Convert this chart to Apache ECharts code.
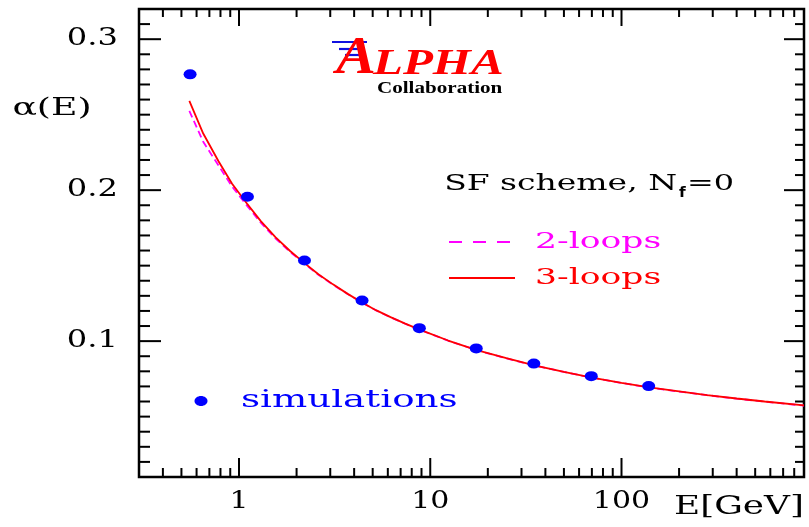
<!DOCTYPE html>
<html>
<head>
<meta charset="utf-8">
<script src="https://cdn.jsdelivr.net/npm/echarts@6/dist/echarts.min.js"></script>
<style>html,body{margin:0;padding:0;background:#fff}#c{width:809px;height:527px}</style>
</head>
<body>
<div id="c"></div>
<script>
// ---- data ----
const simE = [0.555, 1.107, 2.20, 4.40, 8.77, 17.4, 34.8, 69.5, 138.7];
const simAlpha = [0.2767, 0.1956, 0.1534, 0.1269, 0.1086, 0.0952, 0.0851, 0.0768, 0.0702];

const loop3E = [0.55, 0.65, 0.78, 0.92, 1.1, 1.3, 1.55, 1.85, 2.2, 2.6, 3.1, 3.7, 4.4, 5.2, 6.2, 7.4, 8.8, 12.4, 17.5, 25, 35, 50, 70, 100, 140, 200, 280, 400, 560, 900];
const loop3Alpha = [0.2591, 0.2375, 0.2193, 0.2042, 0.1912, 0.1795, 0.1689, 0.1597, 0.1517, 0.1443, 0.1376, 0.1313, 0.1256, 0.1205, 0.1159, 0.1116, 0.1076, 0.1004, 0.0941, 0.0887, 0.0840, 0.0797, 0.0759, 0.0724, 0.0693, 0.0667, 0.0643, 0.0620, 0.0600, 0.0574];

const loop2E = [0.55, 0.65, 0.78, 0.92, 1.1, 1.3, 1.55, 1.85, 2.2, 2.6, 3.1, 3.7, 4.4, 5.2, 6.2, 7.4, 8.8, 12.4, 17.5, 25, 35, 50, 70, 100, 140, 200, 280, 400, 560, 900];
const loop2Alpha = [0.2525, 0.2320, 0.2165, 0.2024, 0.1898, 0.1785, 0.1681, 0.1591, 0.1513, 0.1440, 0.1374, 0.1312, 0.1255, 0.1204, 0.1158, 0.1115, 0.1075, 0.1003, 0.0940, 0.0886, 0.0839, 0.0796, 0.0758, 0.0723, 0.0692, 0.0666, 0.0642, 0.0619, 0.0599, 0.0573];

const xMajorTicks = [1, 10, 100];
const xMajorLabels = ['1', '10', '100'];
const xMinorTicks = [0.4, 0.5, 0.6, 0.7, 0.8, 0.9, 2, 3, 4, 5, 6, 7, 8, 9, 20, 30, 40, 50, 60, 70, 80, 90, 200, 300, 400, 500, 600, 700, 800, 900];
const yMajorTicks = [0.1, 0.2, 0.3];
const yMajorLabels = ['0.1', '0.2', '0.3'];
const yMinorTicks = [0.02, 0.03, 0.04, 0.05, 0.06, 0.07, 0.08, 0.09, 0.11, 0.12, 0.13, 0.14, 0.15, 0.16, 0.17, 0.18, 0.19, 0.21, 0.22, 0.23, 0.24, 0.25, 0.26, 0.27, 0.28, 0.29, 0.31];

const X_MIN = 0.3, X_MAX = 900, Y_MIN = 0.01, Y_MAX = 0.32;
// --------------------------------------

const SERIF = '"DejaVu Serif", serif';
const zip = (a, b) => a.map((v, i) => [v, b[i]]);

function xTick(params, api) {
  const x = api.value(0), major = api.value(2);
  const b = api.coord([x, Y_MIN]), t = api.coord([x, Y_MAX]);
  const lb = major ? 19 : 9, lt = major ? 17 : 8;
  const st = { stroke: '#000', lineWidth: 2 };
  return { type: 'group', children: [
    { type: 'line', shape: { x1: b[0], y1: b[1], x2: b[0], y2: b[1] - lb }, style: st },
    { type: 'line', shape: { x1: t[0], y1: t[1], x2: t[0], y2: t[1] + lt }, style: st }
  ]};
}
function yTick(params, api) {
  const y = api.value(1), major = api.value(2);
  const l = api.coord([X_MIN, y]), r = api.coord([X_MAX, y]);
  const ll = major ? 22 : 11, lr = major ? 20 : 9;
  const st = { stroke: '#000', lineWidth: 2 };
  return { type: 'group', children: [
    { type: 'line', shape: { x1: l[0], y1: l[1], x2: l[0] + ll, y2: l[1] }, style: st },
    { type: 'line', shape: { x1: r[0], y1: r[1], x2: r[0] - lr, y2: r[1] }, style: st }
  ]};
}
function xLabel(params, api) {
  const p = api.coord([api.value(0), Y_MIN]);
  return { type: 'text', x: p[0], y: p[1] + 24, scaleX: 1.2,
    style: { text: xMajorLabels[params.dataIndex], font: '25px ' + SERIF, fill: '#000', align: 'center', verticalAlign: 'middle' } };
}
function yLabel(params, api) {
  const p = api.coord([X_MIN, api.value(1)]);
  return { type: 'text', x: p[0] - 21, y: p[1], scaleX: 1.34,
    style: { text: yMajorLabels[params.dataIndex], font: '24px ' + SERIF, fill: '#000', align: 'right', verticalAlign: 'middle' } };
}

const chart = echarts.init(document.getElementById('c'), null, { renderer: 'canvas' });
chart.setOption({
  animation: false,
  backgroundColor: '#fff',
  grid: { left: 139, right: 5, top: 9, bottom: 50, show: true, borderColor: '#000', borderWidth: 2.5, backgroundColor: 'transparent' },
  xAxis: { type: 'log', logBase: 10, min: X_MIN, max: X_MAX,
    axisLine: { show: false }, axisTick: { show: false }, axisLabel: { show: false }, splitLine: { show: false } },
  yAxis: { type: 'value', min: Y_MIN, max: Y_MAX,
    axisLine: { show: false }, axisTick: { show: false }, axisLabel: { show: false }, splitLine: { show: false } },
  series: [
    { type: 'custom', name: 'xticks', renderItem: xTick, silent: true, clip: false,
      data: xMinorTicks.map(v => [v, Y_MIN, 0]).concat(xMajorTicks.map(v => [v, Y_MIN, 1])) },
    { type: 'custom', name: 'yticks', renderItem: yTick, silent: true, clip: false,
      data: yMinorTicks.map(v => [X_MIN, v, 0]).concat(yMajorTicks.map(v => [X_MIN, v, 1])) },
    { type: 'custom', name: 'xlabels', renderItem: xLabel, silent: true, clip: false,
      data: xMajorTicks.map(v => [v, Y_MIN]) },
    { type: 'custom', name: 'ylabels', renderItem: yLabel, silent: true, clip: false,
      data: yMajorTicks.map(v => [X_MIN, v]) },
    { type: 'line', name: '2-loops', data: zip(loop2E, loop2Alpha), showSymbol: false, smooth: false,
      lineStyle: { color: '#ff00ff', width: 1.8, type: [7, 4] }, z: 3 },
    { type: 'line', name: '3-loops', data: zip(loop3E, loop3Alpha), showSymbol: false, smooth: false,
      lineStyle: { color: '#ff0000', width: 1.8 }, z: 4 },
    { type: 'scatter', name: 'simulations', data: zip(simE, simAlpha), symbol: 'circle', symbolSize: [13, 10],
      itemStyle: { color: '#0000ff', opacity: 1 }, z: 5 }
  ],
  graphic: [
    // axis titles
    { type: 'text', x: 52, y: 108, scaleX: 1.45, style: { text: 'α(E)', font: '25px ' + SERIF, fill: '#000', align: 'center', verticalAlign: 'middle' } },
    { type: 'text', x: 804, y: 507, scaleX: 1.38, style: { text: 'E[GeV]', font: '26px ' + SERIF, fill: '#000', align: 'right', verticalAlign: 'middle' } },
    // ALPHA logo
    { type: 'line', shape: { x1: 332, y1: 42, x2: 367, y2: 42 }, style: { stroke: '#1010e0', lineWidth: 2.2 } },
    { type: 'line', shape: { x1: 339, y1: 49, x2: 364, y2: 49 }, style: { stroke: '#1010e0', lineWidth: 2.2 } },
    { type: 'line', shape: { x1: 345, y1: 55, x2: 360, y2: 55 }, style: { stroke: '#1010e0', lineWidth: 2.2 } },
    { type: 'text', x: 336, y: 60, scaleX: 1.15, style: { text: 'A', font: 'italic bold 52px "Liberation Serif"', fill: '#ff0000', align: 'left', verticalAlign: 'middle' } },
    { type: 'text', x: 373, y: 65, scaleX: 1.4, style: { text: 'LPHA', font: 'italic bold 35px "Liberation Serif"', fill: '#ff0000', align: 'left', verticalAlign: 'middle' } },
    { type: 'text', x: 377, y: 89, scaleX: 1.24, style: { text: 'Collaboration', font: 'bold 17px "Liberation Serif"', fill: '#000', align: 'left', verticalAlign: 'middle' } },
    // SF scheme text
    { type: 'text', x: 677, y: 184, scaleX: 1.5, style: { text: 'SF scheme, N', font: '22px ' + SERIF, fill: '#000', align: 'right', verticalAlign: 'middle' } },
    { type: 'text', x: 679, y: 193, scaleX: 1.1, style: { text: 'f', font: 'bold 14px "DejaVu Sans"', fill: '#000', align: 'left', verticalAlign: 'middle' } },
    { type: 'text', x: 687, y: 184, scaleX: 1.45, style: { text: '=0', font: '22px ' + SERIF, fill: '#000', align: 'left', verticalAlign: 'middle' } },
    // legend 2-loops / 3-loops
    { type: 'line', shape: { x1: 449, y1: 242, x2: 515, y2: 242 }, style: { stroke: '#ff00ff', lineWidth: 1.8, lineDash: [13, 11] } },
    { type: 'text', x: 535, y: 242, scaleX: 1.57, style: { text: '2-loops', font: '22px ' + SERIF, fill: '#ff00ff', align: 'left', verticalAlign: 'middle' } },
    { type: 'line', shape: { x1: 449, y1: 278, x2: 515, y2: 278 }, style: { stroke: '#ff0000', lineWidth: 1.8 } },
    { type: 'text', x: 535, y: 278, scaleX: 1.57, style: { text: '3-loops', font: '22px ' + SERIF, fill: '#ff0000', align: 'left', verticalAlign: 'middle' } },
    // legend simulations
    { type: 'ellipse', shape: { cx: 201, cy: 401, rx: 6.5, ry: 5 }, style: { fill: '#0000ff' } },
    { type: 'text', x: 241, y: 401, scaleX: 1.55, style: { text: 'simulations', font: '24px ' + SERIF, fill: '#0000ff', align: 'left', verticalAlign: 'middle' } }
  ]
});
</script>
</body>
</html>
